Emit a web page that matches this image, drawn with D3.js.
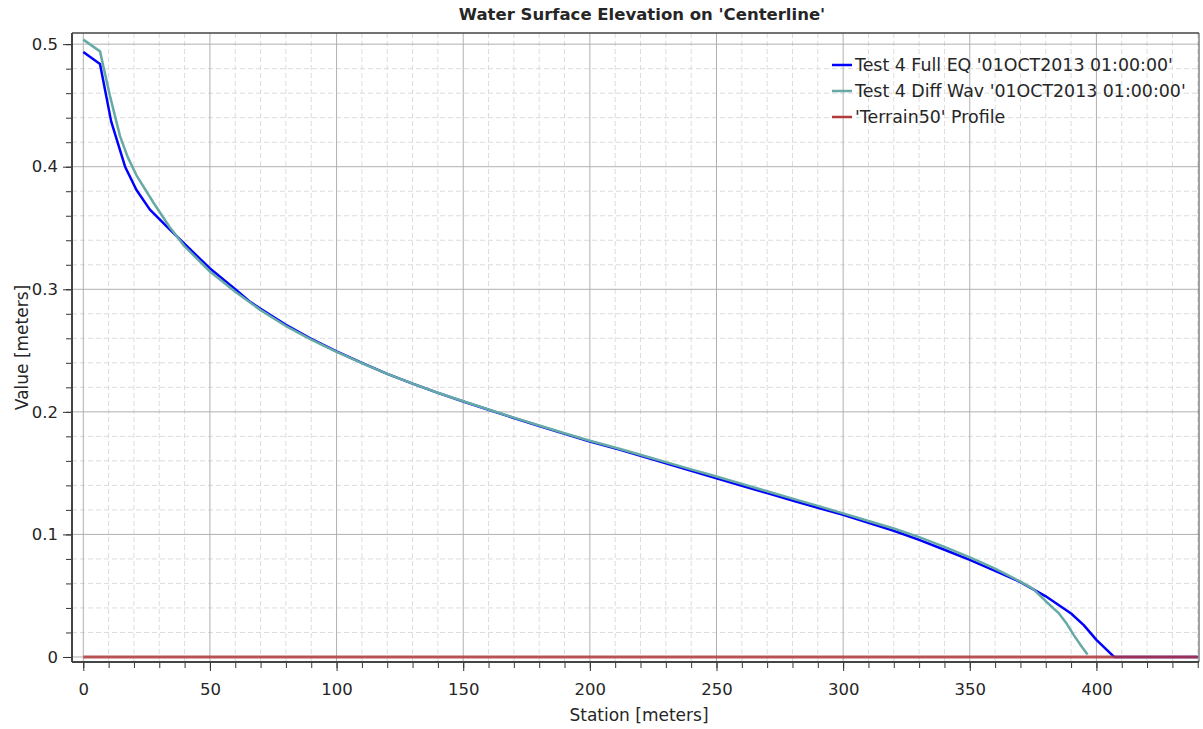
<!DOCTYPE html>
<html><head><meta charset="utf-8">
<script src="https://cdn.jsdelivr.net/npm/d3@7"></script>
<style>
html,body{margin:0;padding:0;background:#fff;}
text{font-family:"DejaVu Sans",sans-serif;fill:#262626;}
</style></head>
<body>
<svg id="chart" width="1203" height="729"></svg>
<script>
// ---- data ----
const fullEqStation = [0, 6.6, 11, 16.5, 21, 26.3, 34, 40, 50, 60, 66, 70, 80, 90, 100, 110, 120, 130, 140, 150, 160, 170, 180, 190, 200, 212, 224, 230, 240, 250, 260, 270, 280, 290, 300, 310, 320, 330, 340, 350, 360, 370, 380, 390, 395, 400, 404, 407, 420, 440];
const fullEqValue   = [0.4936, 0.4838, 0.437, 0.400, 0.381, 0.365, 0.349, 0.337, 0.317, 0.300, 0.2895, 0.284, 0.271, 0.2595, 0.2493, 0.240, 0.231, 0.223, 0.2155, 0.2084, 0.2017, 0.195, 0.1885, 0.182, 0.1758, 0.169, 0.1616, 0.158, 0.152, 0.1458, 0.1397, 0.1337, 0.1277, 0.1218, 0.1159, 0.1095, 0.1030, 0.0955, 0.0875, 0.0792, 0.0703, 0.0611, 0.0495, 0.0355, 0.026, 0.014, 0.006, 0.0, 0.0, 0.0];

const diffWavStation = [0, 6.6, 10.5, 14.5, 17.5, 21, 27.6, 34, 40, 50, 60, 70, 80, 90, 100, 110, 120, 130, 140, 150, 160, 170, 180, 190, 200, 212, 224, 230, 240, 250, 260, 270, 280, 290, 300, 310, 320, 330, 340, 350, 360, 370, 375, 380, 385, 388, 391, 394, 396.5];
const diffWavValue   = [0.5037, 0.4941, 0.458, 0.425, 0.408, 0.393, 0.371, 0.351, 0.335, 0.3145, 0.298, 0.283, 0.270, 0.259, 0.249, 0.2398, 0.231, 0.223, 0.2156, 0.2086, 0.2019, 0.1953, 0.1889, 0.1825, 0.1764, 0.1697, 0.1625, 0.159, 0.1531, 0.1472, 0.1412, 0.1352, 0.1292, 0.1233, 0.1172, 0.111, 0.1048, 0.0978, 0.0898, 0.0812, 0.072, 0.0615, 0.0555, 0.0455, 0.036, 0.028, 0.018, 0.009, 0.002];

const terrainStation = [0, 440];
const terrainValue   = [0, 0];

const seriesNames = ["Test 4 Full EQ '01OCT2013 01:00:00'", "Test 4 Diff Wav '01OCT2013 01:00:00'", "'Terrain50' Profile"];
const seriesColors = ["#0000ff", "#66aaa6", "#b33a3a"];

const xMajorTicks = [0, 50, 100, 150, 200, 250, 300, 350, 400];
const yMajorTicks = [0, 0.1, 0.2, 0.3, 0.4, 0.5];
const xMinorTicks = d3.range(0, 441, 10);
const yMinorTicks = d3.range(0, 0.501, 0.02);

// ---- layout ----
const svg = d3.select("#chart");
const L = 72, R = 1199, T = 33, B = 662;
const x = d3.scaleLinear().domain([-4.46, 440.5]).range([L, R]);
const y = d3.scaleLinear().domain([-0.0041, 0.5091]).range([B, T]);

svg.append("rect").attr("width", 1203).attr("height", 729).attr("fill", "#fff");

// minor grid
const g = svg.append("g");
g.selectAll(".vmin").data(xMinorTicks.filter(d => d % 50 !== 0)).enter().append("line")
  .attr("x1", d => x(d)).attr("x2", d => x(d)).attr("y1", T).attr("y2", B)
  .attr("stroke", "#dcdcdc").attr("stroke-dasharray", "5,3").attr("stroke-width", 1);
g.selectAll(".hmin").data(yMinorTicks.filter(d => Math.abs(d*10 - Math.round(d*10)) > 1e-6)).enter().append("line")
  .attr("y1", d => y(d)).attr("y2", d => y(d)).attr("x1", L).attr("x2", R)
  .attr("stroke", "#dcdcdc").attr("stroke-dasharray", "5,3").attr("stroke-width", 1);
// major grid
g.selectAll(".vmaj").data(xMajorTicks).enter().append("line")
  .attr("x1", d => x(d)).attr("x2", d => x(d)).attr("y1", T).attr("y2", B)
  .attr("stroke", "#b0b0b0").attr("stroke-width", 1);
g.selectAll(".hmaj").data(yMajorTicks).enter().append("line")
  .attr("y1", d => y(d)).attr("y2", d => y(d)).attr("x1", L).attr("x2", R)
  .attr("stroke", "#b0b0b0").attr("stroke-width", 1);

// lines
const line = d3.line().x(d => x(d[0])).y(d => y(d[1]));
const plot = svg.append("g");
const seriesData = [
  d3.zip(fullEqStation, fullEqValue),
  d3.zip(diffWavStation, diffWavValue),
  d3.zip(terrainStation, terrainValue)
];
seriesData.forEach((dat, i) => {
  plot.append("path").datum(dat).attr("d", line)
    .attr("fill", "none").attr("stroke", seriesColors[i])
    .attr("stroke-width", i === 2 ? 3 : 2.5)
    .attr("stroke-opacity", i === 2 ? 0.85 : 1)
    .attr("stroke-linejoin", "round");
});

// axes
const xAxisMinor = d3.axisBottom(x).tickValues(xMinorTicks).tickSize(6).tickFormat("");
svg.append("g").attr("transform", `translate(0,${B})`).call(xAxisMinor)
  .call(a => a.select(".domain").remove())
  .call(a => a.selectAll("line").attr("stroke", "#333"));
const xAxis = d3.axisBottom(x).tickValues(xMajorTicks).tickSize(9).tickPadding(8).tickFormat(d3.format("d"));
svg.append("g").attr("transform", `translate(0,${B})`).call(xAxis)
  .call(a => a.select(".domain").remove())
  .call(a => a.selectAll("line").attr("stroke", "#333"))
  .call(a => a.selectAll("text").style("font-size", "16.5px").attr("fill", "#262626").attr("dy", "0.95em"));

const yAxisMinor = d3.axisLeft(y).tickValues(yMinorTicks).tickSize(6).tickFormat("");
svg.append("g").attr("transform", `translate(${L},0)`).call(yAxisMinor)
  .call(a => a.select(".domain").remove())
  .call(a => a.selectAll("line").attr("stroke", "#333"));
const yAxis = d3.axisLeft(y).tickValues(yMajorTicks).tickSize(9).tickPadding(5).tickFormat(d => d === 0 ? "0" : d3.format(".1f")(d));
svg.append("g").attr("transform", `translate(${L},0)`).call(yAxis)
  .call(a => a.select(".domain").remove())
  .call(a => a.selectAll("line").attr("stroke", "#333"))
  .call(a => a.selectAll("text").style("font-size", "16.5px").attr("fill", "#262626"));

// frame
svg.append("line").attr("x1", L).attr("x2", L).attr("y1", T).attr("y2", B).attr("stroke", "#444").attr("stroke-width", 2);
svg.append("line").attr("x1", L).attr("x2", R).attr("y1", B).attr("y2", B).attr("stroke", "#444").attr("stroke-width", 2);
svg.append("line").attr("x1", L).attr("x2", R).attr("y1", T).attr("y2", T).attr("stroke", "#444").attr("stroke-width", 1.5);
svg.append("line").attr("x1", R).attr("x2", R).attr("y1", T).attr("y2", B).attr("stroke", "#444").attr("stroke-width", 1);

// titles
svg.append("text").attr("x", 642).attr("y", 20).attr("text-anchor", "middle")
  .style("font-size", "16.5px").style("font-weight", "bold").attr("fill", "#111")
  .text("Water Surface Elevation on 'Centerline'");
svg.append("text").attr("x", 639).attr("y", 721).attr("text-anchor", "middle")
  .style("font-size", "17px").text("Station [meters]");
svg.append("text").attr("transform", `translate(28,${(T + B) / 2}) rotate(-90)`).attr("text-anchor", "middle")
  .style("font-size", "17px").text("Value [meters]");

// legend
const leg = svg.append("g").attr("transform", "translate(832,65)");
seriesNames.forEach((name, i) => {
  const row = leg.append("g").attr("transform", `translate(0,${i * 26})`);
  row.append("line").attr("x1", 0).attr("x2", 20).attr("y1", 0).attr("y2", 0)
    .attr("stroke", seriesColors[i]).attr("stroke-width", 2.5);
  row.append("text").attr("x", 23).attr("y", 0).attr("dy", "0.35em")
    .style("font-size", "17.4px").text(name);
});
</script>
</body></html>
